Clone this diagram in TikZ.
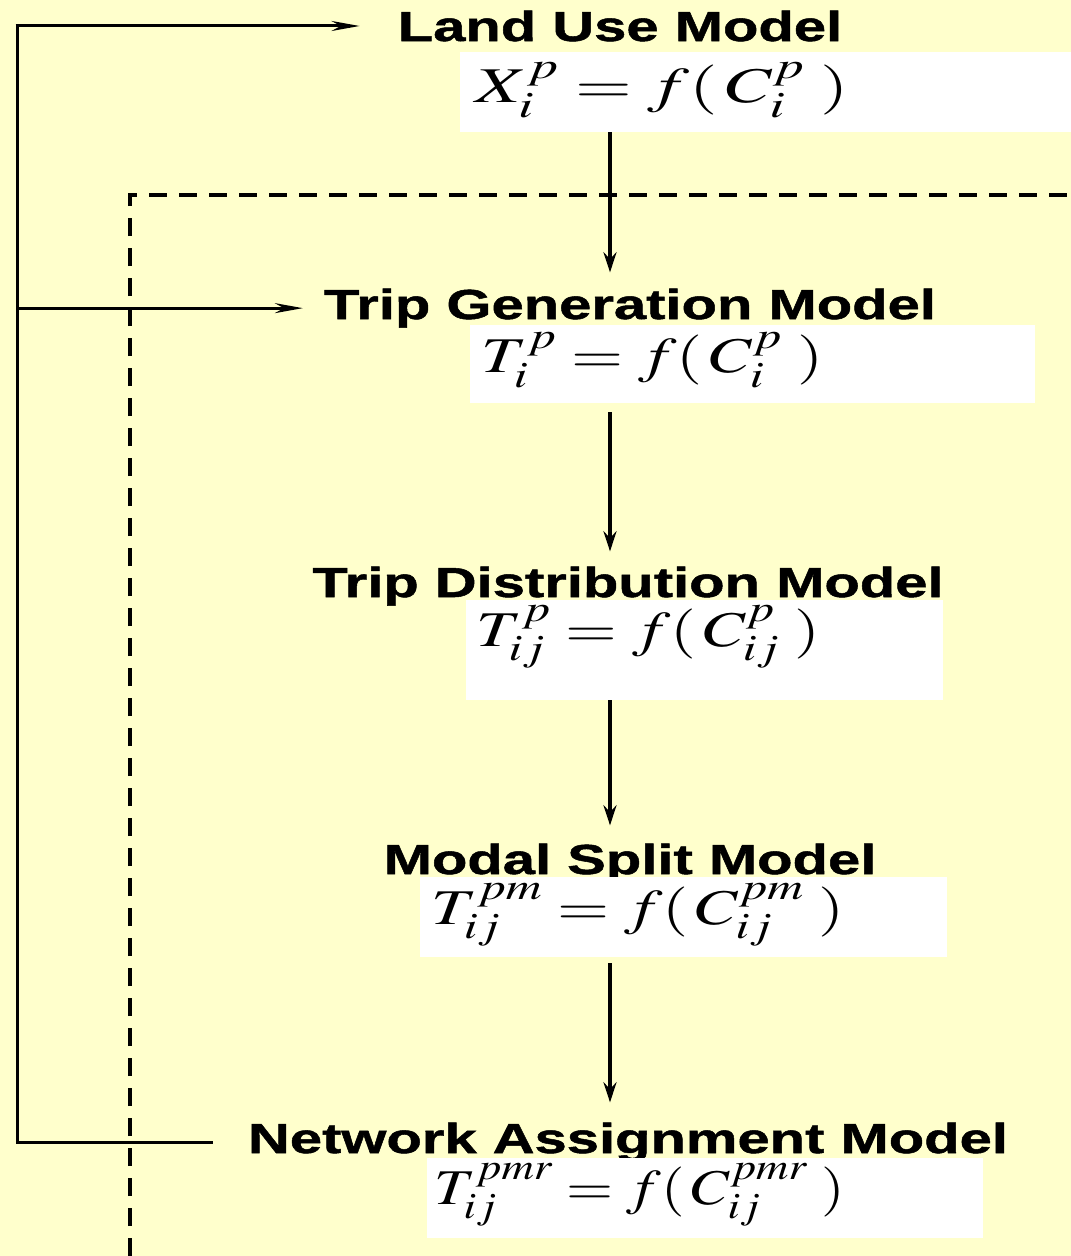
\documentclass[tikz,border=0pt]{standalone}
\usepackage{mathptmx}
\usepackage[no-math]{fontspec}
\usepackage{tikz}
\usetikzlibrary{arrows.meta}
\usetikzlibrary{calc}
\definecolor{paper}{HTML}{FFFFCC}
\newfontfamily\titlefont[FakeStretch=1.38, FakeBold=1.2]{Liberation Sans Bold}
\tikzstyle{title} = [inner sep=0pt, anchor=base, font=\titlefont\fontsize{42}{42}\selectfont]
\tikzstyle{formbox} = [fill=white, inner sep=0pt, anchor=north west]
\tikzstyle{flow} = [line width=3.5pt, -{Stealth[length=20pt, width=13pt]}]
\tikzstyle{back} = [line width=3pt, -{Stealth[length=28pt, width=10pt]}]
\tikzstyle{feed} = [line width=3pt]
\newcommand{\eqn}[2]{\scalebox{#1}[1]{\fontsize{50}{50}\selectfont$#2$}}

\begin{document}
\begin{tikzpicture}[x=1pt, y=-1pt]
	\fill[paper] (0, 0) rectangle (1071, 1256) ;
	\useasboundingbox (0, 0) rectangle (1071, 1256) ;
	
	\coordinate (axis) at (610, 0) ;
	\coordinate (loop) at (17, 0) ;
	
	% the chain of models
	\node[title] (lu) at (620, 41) {Land Use Model} ;
	\node[formbox, minimum width=611, minimum height=80] (luf) at (460, 52) {} ;
	\node[anchor=west] at (472, 90) {\eqn{1.46}{X_i^p = f(\,C_i^p\;)}} ;
	
	\node[title] (tg) at (630, 319) {Trip Generation Model} ;
	\node[formbox, minimum width=565, minimum height=78] (tgf) at (470, 325) {} ;
	\node[anchor=west] at (478, 360) {\eqn{1.34}{T_i^p = f(\,C_i^p\;)}} ;
	
	\node[title] (td) at (628, 597) {Trip Distribution Model} ;
	\node[formbox, minimum width=477, minimum height=100] (tdf) at (466, 600) {} ;
	\node[anchor=west] at (473, 637) {\eqn{1.33}{T_{ij}^p = f(\,C_{ij}^p\;)}} ;
	
	\node[title] (ms) at (630, 874) {Modal Split Model} ;
	\node[formbox, minimum width=527, minimum height=80] (msf) at (420, 877) {} ;
	\node[anchor=west] at (428, 915) {\eqn{1.34}{T_{ij}^{pm} = f(\,C_{ij}^{pm}\;)}} ;
	
	\node[title] (na) at (628, 1153) {Network Assignment Model} ;
	\node[formbox, minimum width=556, minimum height=80] (naf) at (427, 1158) {} ;
	\node[anchor=west] at (431, 1195) {\eqn{1.21}{T_{ij}^{pmr} = f(\,C_{ij}^{pmr}\;)}} ;
	
	% dashed frame
	\draw[line width=4pt, dash pattern=on 18pt off 12pt] (130, 1256) -- (130, 195) -- (1071, 195) ;
	
	% downward arrows
	\draw[flow] (luf.south -| axis) -- ($(tg.north -| axis)+(0,-16)$) ;
	\draw[flow] ($(tgf.south -| axis)+(0,9)$) -- ($(td.north -| axis)+(0,-15)$) ;
	\draw[flow] (tdf.south -| axis) -- ($(ms.north -| axis)+(0,-18)$) ;
	\draw[flow] ($(msf.south -| axis)+(0,6)$) -- ($(na.north -| axis)+(0,-20)$) ;
	
	% feedback loop
	\draw[feed] ([xshift=-35]na.west) -- (na.west -| loop) -- (lu.west -| loop) ;
	\draw[back] ([xshift=-1.5]lu.west -| loop) -- ([xshift=-38]lu.west) ;
	\draw[back] (tg.west -| loop) -- ([xshift=-21]tg.west) ;
\end{tikzpicture}
\end{document}
